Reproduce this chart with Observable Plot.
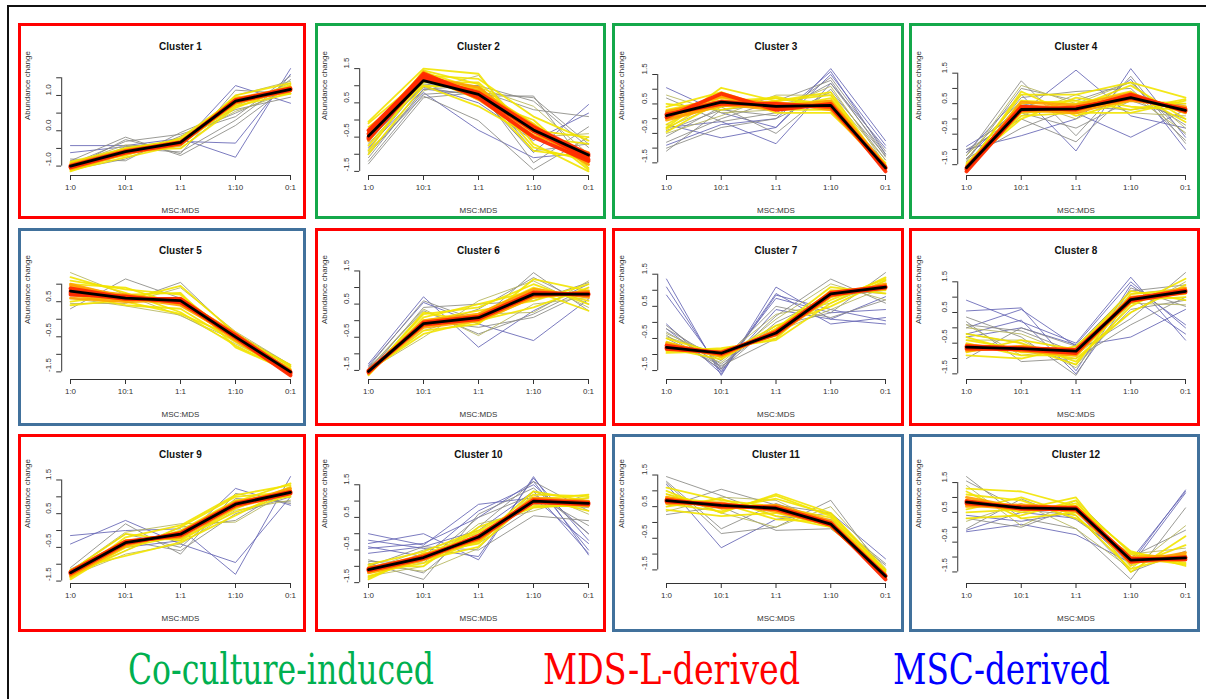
<!DOCTYPE html>
<html>
<head>
<meta charset="utf-8">
<script src="https://cdn.jsdelivr.net/npm/d3@7"></script>
<script src="https://cdn.jsdelivr.net/npm/@observablehq/plot@0.6"></script>
<style>
  html, body { margin: 0; padding: 0; background: #fff; }
  #root { position: relative; width: 1206px; height: 699px; background: #fff; overflow: hidden; }
  .outer { position: absolute; left: 7px; top: 5px; width: 1300px; height: 800px; border-left: 2px solid #111; border-top: 2px solid #111; }
  .panelsvg { position: absolute; }
  .pborder { position: absolute; box-sizing: border-box; border: 3px solid; pointer-events: none; }
  .legend { position: absolute; top: 644px; font-family: "DejaVu Serif Condensed", "DejaVu Serif", serif; font-size: 42px; line-height: 52px; white-space: nowrap; transform-origin: 0 0; }
</style>
</head>
<body>
<div id="root"><div class="outer"></div></div>
<script>
// ---------- data ----------
const conditions = ["1:0", "10:1", "1:1", "1:10", "0:1"];
const clusterNames = ["Cluster 1","Cluster 2","Cluster 3","Cluster 4","Cluster 5","Cluster 6",
                      "Cluster 7","Cluster 8","Cluster 9","Cluster 10","Cluster 11","Cluster 12"];
const clusterGroups = ["MDS-L","Co-culture","Co-culture","Co-culture","MSC","MDS-L",
                       "MDS-L","MDS-L","MDS-L","MDS-L","MSC","MSC"];
const groupLabels = ["Co-culture-induced", "MDS-L-derived", "MSC-derived"];
const groupKeys = ["Co-culture", "MDS-L", "MSC"];
const axisTitleY = "Abundance change";
const axisTitleX = "MSC:MDS";

// membership classes: 0 blue (lowest), 1 gray, 2 olive, 3 yellow, 4 orange, 5 red (highest)
const clusterMeans = [
  [-1.0, -0.59, -0.33, 0.84, 1.17],
  [-0.47, 1.15, 0.75, -0.29, -1.02],
  [0.1, 0.56, 0.42, 0.45, -1.67],
  [-1.6, 0.31, 0.33, 0.7, 0.28],
  [0.8, 0.6, 0.53, -0.5, -1.5],
  [-1.53, -0.09, 0.09, 0.8, 0.8],
  [-0.78, -0.96, -0.33, 0.89, 1.1],
  [-0.63, -0.68, -0.76, 0.92, 1.19],
  [-1.25, -0.36, -0.11, 0.78, 1.13],
  [-1.1, -0.73, -0.1, 1.0, 0.93],
  [0.69, 0.54, 0.45, -0.05, -1.7],
  [0.84, 0.65, 0.62, -1.1, -1.03]
];

const cluster1Profiles = [
  [0,-0.42,-0.42,-0.22,-0.75,1.76],[0,-0.62,-0.45,-0.3,-0.35,1.6],[0,-0.9,-0.55,-0.4,1.28,0.78],
  [1,-0.85,-0.18,-0.7,0.15,1.3],[1,-0.95,-0.3,-0.1,0.4,1.55],[1,-0.8,-0.85,-0.05,0.6,0.95],
  [1,-1.05,-0.25,-0.65,1.15,1.05],[1,-0.9,-0.5,-0.6,0.3,1.45],[1,-1.1,-0.8,-0.15,0.5,1.2],
  [2,-0.95,-0.4,-0.5,0.7,1.35],[2,-0.85,-0.7,-0.25,0.55,1.1],[2,-1.1,-0.45,-0.45,1.0,1.4],
  [3,-1.12,-0.75,-0.4,0.75,1.3],[3,-0.88,-0.5,-0.3,0.95,1.05],[3,-1.05,-0.55,-0.5,0.65,1.25],
  [3,-0.95,-0.7,-0.2,0.9,1.15],[3,-1.15,-0.65,-0.4,1.0,1.35],[3,-0.9,-0.6,-0.35,0.7,1.05],
  [3,-1.0,-0.5,-0.25,0.8,1.25],
  [4,-1.05,-0.62,-0.38,0.88,1.2],[4,-0.98,-0.58,-0.3,0.8,1.12],[4,-1.08,-0.65,-0.4,0.9,1.22],
  [4,-0.95,-0.55,-0.32,0.78,1.15],
  [5,-1.02,-0.6,-0.35,0.85,1.18],[5,-1.04,-0.62,-0.36,0.87,1.2],[5,-0.99,-0.58,-0.33,0.83,1.15]
];
const cluster2Profiles = [
  [0,-1.0,0.8,-0.3,-1.1,-0.95],[0,-0.8,0.9,0.75,-0.95,0.45],[0,-0.6,1.0,0.5,-0.6,0.2],
  [1,-1.28,0.65,0.8,0.65,-0.7],[1,-1.1,0.9,1.0,0.55,-0.8],[1,-0.9,0.7,-0.02,-1.45,-0.5],
  [1,-0.7,1.05,0.9,-1.25,-0.2],[1,-1.2,0.75,0.85,0.3,0.1],[1,-0.5,0.95,0.7,0.7,-1.4],
  [1,-0.85,1.1,1.0,-0.9,-0.7],
  [2,-0.95,0.85,1.3,-0.5,-0.4],[2,-0.65,1.2,0.95,0.4,-1.0],
  [3,-0.05,1.5,1.35,-0.7,-1.5],[3,-0.3,1.4,0.9,-0.1,-1.3],[3,-0.9,1.3,1.2,0.1,-0.6],
  [3,-0.2,1.0,0.4,-0.5,-0.7],[3,-0.6,1.45,1.05,-0.8,-1.2],[3,-0.1,1.25,0.6,0.0,-1.4],
  [3,-0.75,1.1,1.1,-0.3,-0.5],[3,-0.4,1.35,0.8,-0.9,-1.1],[3,-1.0,1.0,0.95,-0.2,-1.45],
  [4,-0.5,1.3,0.7,-0.35,-1.1],[4,-0.35,1.2,0.85,-0.15,-1.2],[4,-0.6,1.4,0.6,-0.45,-0.95],
  [4,-0.45,1.25,0.95,-0.3,-1.3],
  [5,-0.4,1.35,0.72,-0.28,-1.15],[5,-0.5,1.25,0.78,-0.32,-1.05],[5,-0.3,1.3,0.65,-0.5,-1.2],
  [5,-0.55,1.2,0.8,-0.2,-1.0]
];
const cluster3Profiles = [
  [0,1.05,0.2,-0.3,1.7,-0.75],[0,-0.2,-0.65,-0.3,1.5,-0.9],[0,-0.3,-0.1,-0.85,1.2,-1.0],
  [0,-0.9,-0.2,0.0,1.6,-1.2],
  [1,-1.1,0.3,0.1,1.4,-1.1],[1,-0.8,0.0,0.6,1.3,-1.3],[1,-0.6,0.4,-0.5,1.0,-1.4],
  [1,0.7,-0.1,0.2,1.2,-1.2],[1,-0.4,0.3,0.5,0.6,-1.5],[1,-1.0,-0.3,0.0,0.9,-1.25],
  [2,-0.5,0.1,0.8,0.8,-1.4],[2,0.8,0.2,0.3,1.1,-1.55],[2,-0.3,0.5,0.7,0.3,-1.6],
  [3,-0.3,1.05,0.6,0.9,-1.7],[3,0.4,0.9,0.3,0.3,-1.55],[3,-0.45,0.6,0.7,0.5,-1.65],
  [3,0.5,0.3,0.6,0.8,-1.75],[3,-0.2,0.85,0.2,0.2,-1.6],[3,0.3,0.7,0.5,0.6,-1.7],
  [3,0.0,0.4,0.75,0.35,-1.5],[3,-0.35,0.75,0.35,0.7,-1.65],
  [4,0.2,0.75,0.45,0.4,-1.7],[4,0.0,0.5,0.3,0.55,-1.65],[4,0.25,0.6,0.55,0.3,-1.72],
  [4,-0.05,0.45,0.4,0.6,-1.6],
  [5,0.12,0.58,0.42,0.45,-1.68],[5,0.05,0.85,0.3,0.5,-1.79],[5,0.15,0.5,0.5,0.4,-1.65]
];
const cluster4Profiles = [
  [0,-0.9,0.2,1.6,0.1,-0.3],[0,-1.1,0.8,-1.05,1.65,-0.6],[0,-1.3,0.5,0.2,-0.6,0.3],
  [0,-1.0,-0.55,0.0,1.3,-1.0],
  [1,-1.2,1.25,-0.55,1.4,-0.8],[1,-1.4,1.0,0.6,1.2,-0.5],[1,-1.0,0.0,-0.75,0.9,-0.2],
  [1,-1.3,-0.3,0.4,0.3,0.5],[1,-1.5,0.7,0.9,1.0,-0.7],[1,-1.1,0.2,-0.3,0.6,0.0],
  [2,-1.35,1.1,0.5,1.2,-0.3],[2,-1.5,0.1,0.8,0.2,0.1],[2,-1.2,0.6,0.0,0.8,-0.45],
  [3,-1.6,0.8,0.8,1.2,0.7],[3,-1.55,0.1,0.2,0.2,0.6],[3,-1.7,0.6,0.5,0.9,-0.1],
  [3,-1.5,0.0,0.7,0.4,0.3],[3,-1.65,0.9,0.1,0.6,0.5],[3,-1.45,0.3,0.4,1.1,0.0],
  [3,-1.6,0.5,0.6,0.3,0.65],[3,-1.7,0.2,0.3,0.8,0.2],
  [4,-1.62,0.4,0.4,0.75,0.3],[4,-1.55,0.25,0.3,0.6,0.4],[4,-1.68,0.55,0.45,0.85,0.2],
  [4,-1.58,0.3,0.2,0.7,0.35],
  [5,-1.65,0.32,0.34,0.75,0.28],[5,-1.6,0.4,0.3,0.8,0.25],[5,-1.72,0.3,0.38,0.68,0.32]
];
const cluster5Profiles = [
  [1,0.3,1.15,0.6,-0.4,-1.3],[1,1.0,0.5,1.05,-0.45,-1.35],
  [2,1.33,0.7,0.1,-0.6,-1.4],[2,0.45,0.45,0.9,-0.35,-1.3],[2,0.6,0.38,0.12,-0.7,-1.45],
  [3,1.2,0.75,0.2,-0.75,-1.5],[3,0.4,0.55,0.95,-0.4,-1.35],[3,1.1,0.85,0.7,-0.55,-1.4],
  [3,0.7,0.4,0.3,-0.65,-1.55],[3,1.0,0.9,0.4,-0.45,-1.45],[3,0.5,0.7,0.75,-0.8,-1.5],
  [3,0.9,0.5,0.15,-0.5,-1.3],
  [4,0.95,0.65,0.45,-0.55,-1.5],[4,0.7,0.55,0.6,-0.45,-1.45],[4,0.85,0.7,0.5,-0.6,-1.55],
  [4,0.6,0.5,0.55,-0.4,-1.5],[4,1.0,0.62,0.4,-0.5,-1.58],
  [5,0.8,0.6,0.53,-0.5,-1.52],[5,0.75,0.58,0.58,-0.48,-1.55],[5,0.88,0.62,0.5,-0.52,-1.6],
  [5,0.7,0.65,0.48,-0.45,-1.5]
];
const cluster6Profiles = [
  [0,-1.35,0.55,-0.1,-0.6,0.65],[0,-1.3,0.72,-0.8,0.3,1.1],
  [1,-1.4,0.6,0.0,1.45,0.3],[1,-1.45,0.3,-0.4,0.2,1.0],[1,-1.5,-0.2,0.35,1.3,0.5],
  [1,-1.4,0.0,-0.2,0.1,0.9],[1,-1.55,0.4,0.5,0.6,1.15],
  [2,-1.5,-0.5,0.6,1.2,0.4],[2,-1.45,0.35,-0.45,0.5,0.7],[2,-1.55,-0.3,0.2,0.25,1.2],
  [3,-1.6,0.2,0.4,1.1,0.5],[3,-1.5,-0.4,0.0,0.4,1.0],[3,-1.65,0.1,0.5,0.9,0.3],
  [3,-1.55,-0.3,-0.1,1.25,0.9],[3,-1.6,0.0,0.3,0.6,1.1],[3,-1.5,-0.15,0.2,1.0,0.6],
  [3,-1.62,0.25,-0.05,0.7,0.8],
  [4,-1.55,-0.05,0.15,0.85,0.75],[4,-1.5,-0.15,0.05,0.75,0.85],[4,-1.6,0.0,0.2,0.95,0.7],
  [4,-1.52,-0.2,0.0,0.7,0.9],
  [5,-1.53,-0.09,0.09,0.8,0.8],[5,-1.56,-0.05,0.12,0.85,0.78],[5,-1.5,-0.12,0.05,0.78,0.82]
];
const cluster7Profiles = [
  [0,1.35,-1.65,1.1,0.1,-0.05],[0,1.1,-1.55,0.9,-0.05,0.15],[0,0.85,-1.45,0.75,0.3,0.4],
  [0,-0.05,-1.6,0.85,0.4,0.05],[0,-0.2,-1.5,0.4,0.1,0.8],
  [1,-0.1,-1.4,0.2,1.35,0.6],[1,-0.3,-1.3,-0.1,0.3,1.55],[1,-0.4,-1.45,0.0,0.8,1.0],
  [1,-0.2,-1.2,0.5,0.15,0.7],[1,-0.5,-1.35,-0.5,1.0,0.9],
  [2,-0.35,-1.1,0.25,0.6,1.3],[2,-0.6,-1.25,0.1,1.2,0.7],[2,-0.45,-1.0,-0.3,0.4,1.1],
  [3,-0.9,-0.8,-0.55,0.6,1.4],[3,-0.6,-1.1,-0.2,1.1,0.9],[3,-0.95,-0.9,-0.4,0.8,1.2],
  [3,-0.7,-1.05,-0.1,0.5,1.3],[3,-0.85,-0.85,-0.5,1.0,1.0],[3,-0.5,-1.0,-0.3,0.7,1.35],
  [3,-0.8,-1.15,-0.2,0.95,1.15],
  [4,-0.75,-0.95,-0.35,0.85,1.15],[4,-0.65,-1.0,-0.25,0.9,1.05],[4,-0.85,-0.9,-0.4,0.8,1.2],
  [4,-0.7,-1.05,-0.3,0.95,1.1],
  [5,-0.78,-0.96,-0.33,0.89,1.1],[5,-0.72,-0.98,-0.3,0.92,1.12],[5,-0.82,-0.94,-0.36,0.86,1.08]
];
const cluster8Profiles = [
  [0,0.9,0.2,-0.5,1.65,-0.4],[0,0.55,0.65,-1.4,1.4,0.1],[0,-0.2,0.25,-1.5,1.0,-0.2],
  [0,0.0,0.6,-0.6,-0.3,0.6],[0,-0.3,0.0,-0.55,1.5,0.0],
  [1,0.35,-0.3,-1.55,1.3,0.7],[1,0.1,-0.1,-0.8,0.3,1.8],[1,-0.2,-0.5,-1.2,0.6,0.9],
  [1,-1.0,0.0,-0.6,1.2,1.4],[1,0.2,-1.1,-1.0,0.1,1.0],
  [2,0.0,-0.2,-0.9,0.5,1.5],[2,-0.4,-0.4,-1.3,0.8,0.75],[2,0.1,-0.9,-0.65,1.1,1.3],
  [3,-0.2,-0.5,-1.1,0.7,1.6],[3,-0.9,-1.0,-0.6,1.0,1.1],[3,-0.4,-0.7,-1.0,0.5,1.4],
  [3,-0.8,-0.4,-0.7,1.2,0.9],[3,-0.5,-0.9,-0.9,0.8,1.3],[3,-0.7,-0.6,-1.2,1.1,1.25],
  [3,-0.3,-0.8,-0.8,0.9,1.0],
  [4,-0.6,-0.7,-0.85,0.95,1.2],[4,-0.7,-0.65,-0.7,0.85,1.25],[4,-0.55,-0.75,-0.9,1.0,1.15],
  [4,-0.75,-0.6,-0.8,0.9,1.3],
  [5,-0.63,-0.68,-0.76,0.92,1.19],[5,-0.68,-0.7,-0.82,0.95,1.22],[5,-0.6,-0.66,-0.72,0.88,1.16]
];
const cluster9Profiles = [
  [0,-0.15,0.0,0.05,-1.3,1.6],[0,-0.4,0.3,-0.4,-0.95,1.0],[0,-1.2,-0.5,-0.3,1.25,0.75],
  [1,-1.1,0.2,-0.7,1.1,0.8],[1,-1.2,-0.1,-0.5,0.95,0.85],[1,-1.3,-0.6,0.1,0.3,1.3],
  [1,-1.15,-0.3,-0.6,0.5,1.0],
  [2,-1.2,-0.05,0.2,0.25,1.2],[2,-1.35,-0.7,-0.4,0.6,0.9],
  [3,-1.4,-0.2,0.15,1.05,1.35],[3,-1.15,-0.75,-0.35,0.45,1.25],[3,-1.45,-0.45,0.0,0.9,1.0],
  [3,-1.2,-0.1,-0.3,0.65,1.3],[3,-1.35,-0.6,0.1,1.0,1.15],[3,-1.25,-0.3,-0.25,0.55,1.05],
  [3,-1.4,-0.5,-0.15,0.85,1.4],
  [4,-1.3,-0.4,-0.1,0.8,1.2],[4,-1.2,-0.3,-0.2,0.7,1.1],[4,-1.35,-0.45,-0.05,0.85,1.15],
  [4,-1.22,-0.35,-0.15,0.75,1.25],
  [5,-1.25,-0.36,-0.11,0.78,1.13],[5,-1.28,-0.38,-0.08,0.8,1.15],[5,-1.23,-0.33,-0.14,0.75,1.1]
];
const cluster10Profiles = [
  [0,0.0,-0.35,0.9,1.1,-0.3],[0,-0.3,0.0,-0.8,1.75,-0.65],[0,-0.45,-0.3,0.5,1.6,-0.5],
  [0,-0.2,-0.45,-0.7,1.7,-0.2],[0,-0.6,-0.4,0.1,1.3,-0.6],[0,-0.4,-0.7,0.7,1.5,0.0],
  [1,-0.9,-1.4,0.6,1.4,0.0],[1,-1.0,-0.4,-0.5,0.55,0.4],[1,-0.8,-1.2,0.2,1.6,0.7],
  [1,-1.2,-0.6,-0.3,0.8,1.1],[1,-0.85,-0.9,0.5,1.2,0.25],
  [2,-1.3,-1.0,0.3,0.7,1.2],[2,-0.95,-1.15,-0.45,1.3,0.6],[2,-1.1,-0.5,0.0,0.9,0.8],
  [3,-1.4,-0.6,-0.3,1.2,1.15],[3,-1.0,-1.0,0.2,0.8,0.9],[3,-1.3,-0.8,-0.4,1.1,0.7],
  [3,-0.95,-0.55,0.1,0.95,1.1],[3,-1.2,-0.9,-0.2,1.3,1.0],[3,-1.35,-0.65,0.05,0.85,0.85],
  [3,-1.05,-0.75,-0.25,1.05,1.2],
  [4,-1.15,-0.75,-0.12,1.05,0.95],[4,-1.05,-0.7,-0.05,0.95,0.9],[4,-1.2,-0.8,-0.15,1.1,1.0],
  [4,-1.1,-0.65,-0.2,1.0,0.85],
  [5,-1.1,-0.73,-0.1,1.0,0.93],[5,-1.13,-0.76,-0.07,1.03,0.95],[5,-1.08,-0.7,-0.13,0.97,0.9]
];
const cluster11Profiles = [
  [0,1.2,-0.8,0.1,0.3,-1.15],
  [1,1.45,0.85,0.2,0.1,-1.3],[1,1.25,-0.35,-0.15,0.7,-1.6],[1,0.25,0.5,-0.25,-0.2,-1.5],
  [1,1.3,-0.2,0.6,0.0,-1.35],[1,0.5,1.05,0.55,0.3,-1.55],
  [2,0.9,0.3,-0.15,0.5,-1.45],[2,0.35,0.8,0.7,-0.1,-1.6],
  [3,1.0,0.3,0.9,0.3,-1.5],[3,0.5,0.75,0.2,-0.15,-1.65],[3,0.9,0.45,0.75,0.25,-1.55],
  [3,0.4,0.2,0.3,-0.1,-1.7],[3,1.1,0.7,0.5,0.15,-1.6],[3,0.6,0.35,0.85,0.2,-1.75],
  [3,0.8,0.6,0.1,0.0,-1.5],
  [4,0.75,0.5,0.5,0.0,-1.68],[4,0.6,0.58,0.4,-0.1,-1.72],[4,0.8,0.45,0.55,0.05,-1.65],
  [4,0.65,0.62,0.35,-0.08,-1.75],
  [5,0.69,0.54,0.45,-0.05,-1.7],[5,0.72,0.5,0.48,-0.02,-1.8],[5,0.66,0.57,0.42,-0.08,-1.68]
];
const cluster12Profiles = [
  [0,-0.15,0.1,-0.25,-1.2,1.25],[0,-0.1,0.5,0.3,-1.1,1.2],[0,0.4,0.2,0.5,-1.3,1.15],
  [1,1.7,0.3,-0.05,-1.75,0.65],[1,-0.05,0.95,0.25,-1.0,-0.1],[1,1.55,0.6,0.4,-1.5,-0.8],
  [1,0.3,0.0,0.7,-1.2,-1.1],
  [2,1.4,0.05,0.9,-0.9,-0.7],[2,0.2,0.8,-0.05,-1.4,0.05],
  [3,1.3,1.2,0.7,-0.8,-1.3],[3,0.3,0.4,0.9,-1.5,-0.3],[3,1.1,0.9,0.3,-0.9,-1.2],
  [3,0.5,0.6,1.0,-1.3,-0.6],[3,1.2,0.3,0.5,-1.0,-1.25],[3,0.6,1.0,0.4,-1.4,-0.9],
  [3,0.9,0.5,0.8,-0.85,-1.1],
  [4,0.9,0.7,0.6,-1.05,-1.0],[4,0.75,0.6,0.7,-1.15,-1.1],[4,1.0,0.65,0.55,-1.0,-0.95],
  [4,0.7,0.75,0.65,-1.2,-0.85],
  [5,0.84,0.65,0.62,-1.1,-1.03],[5,0.88,0.62,0.6,-1.15,-1.0],[5,0.8,0.68,0.65,-1.05,-1.08]
];
const allProfiles = [cluster1Profiles, cluster2Profiles, cluster3Profiles, cluster4Profiles,
  cluster5Profiles, cluster6Profiles, cluster7Profiles, cluster8Profiles,
  cluster9Profiles, cluster10Profiles, cluster11Profiles, cluster12Profiles];

// ---------- styles / layout ----------
const classColors = ["#6464b4", "#8a8a84", "#b4b45a", "#f2e400", "#ffa000", "#ff2a00"];
const classOpacity = [0.85, 0.85, 0.85, 0.9, 0.9, 0.95];
const classWidth = [1, 1, 1, 1.8, 2.8, 3.8];
const groupColors = {"Co-culture": "#14a84a", "MDS-L": "#ff0000", "MSC": "#41719c"};
const legendColors = {"Co-culture": "#00b050", "MDS-L": "#ff0000", "MSC": "#0000ff"};

const colLeft = [18, 315, 612, 909];
const colWidth = [288, 291, 292, 291];
const colX10 = [52, 53, 54, 57];     // offset of first condition within panel
const colX01 = [272, 273, 273, 276]; // offset of last condition within panel
const rowTop = [23, 228, 434];       // panel borders
const rowHeight = [196, 198, 198];
const svgTop = [23, 227, 431];       // plot content
const frameTop = 41, frameBottom = 152;

const root = document.getElementById("root");

allProfiles.forEach((profiles, k) => {
  const col = k % 4, row = Math.floor(k / 4);
  const W = colWidth[col], H = rowHeight[row];
  const mean = clusterMeans[k];
  const vals = profiles.flatMap(p => p.slice(1)).concat(mean);
  const mn = d3.min(vals), mx = d3.max(vals);
  const pad = (mx - mn) * 0.04;
  const lo = mn - pad, hi = mx + pad;
  const ticks = d3.range(Math.ceil(lo * 2), Math.floor(hi * 2) + 1).map(t => t / 2);
  const labeled = ticks.filter((t, i) => i % 2 === 0);
  const unit = (colX01[col] - colX10[col]) / 4;
  const mLeft = colX10[col] - 0.16 * unit;
  const mRight = W - (colX01[col] + 0.16 * unit);

  const lineMarks = [];
  for (let c = 0; c < classColors.length; c++) {
    const rows = [];
    profiles.forEach((p, j) => {
      if (p[0] !== c) return;
      p.slice(1).forEach((v, i) => rows.push({id: j, i, v}));
    });
    if (rows.length) lineMarks.push(Plot.line(rows, {x: "i", y: "v", z: "id",
      stroke: classColors[c], strokeOpacity: classOpacity[c], strokeWidth: classWidth[c]}));
  }

  const svg = Plot.plot({
    width: W, height: H,
    marginLeft: mLeft, marginRight: mRight, marginTop: frameTop, marginBottom: H - frameBottom,
    x: {domain: [-0.16, 4.16], axis: null},
    y: {domain: [lo, hi], axis: null},
    style: {fontFamily: "Liberation Sans, Arial, sans-serif", fontSize: "8px", background: "transparent", color: "#222", overflow: "visible"},
    marks: [
      ...lineMarks,
      Plot.line(mean.map((v, i) => ({i, v})), {x: "i", y: "v", stroke: "#000", strokeWidth: 2.8}),
      // y axis
      Plot.ruleX([-0.16], {y1: ticks[0], y2: ticks[ticks.length - 1], stroke: "#333", strokeWidth: 1}),
      Plot.axisY({ticks, tickSize: 5, tickFormat: () => "", label: null, stroke: "#333"}),
      Plot.text(labeled, {y: d => d, text: d => d.toFixed(1), frameAnchor: "left", dx: -13, rotate: -90, fill: "#333", fontSize: 8}),
      Plot.text([axisTitleY], {frameAnchor: "left", dx: -(mLeft - 9), rotate: -90, fill: "#333", fontSize: 8}),
      // x axis
      Plot.ruleY([lo], {x1: 0, x2: 4, stroke: "#333", strokeWidth: 1}),
      Plot.axisX({ticks: [0, 1, 2, 3, 4], tickSize: 5, tickFormat: () => "", label: null, stroke: "#333"}),
      Plot.text([0, 1, 2, 3, 4], {x: d => d, text: d => conditions[d], frameAnchor: "bottom", dy: 14, fill: "#333", fontSize: 8}),
      Plot.text([axisTitleX], {frameAnchor: "bottom", dy: 37, fill: "#333", fontSize: 8}),
      // title
      Plot.text([clusterNames[k]], {frameAnchor: "top", dy: -22, fill: "#111", fontSize: 10, fontWeight: "bold"})
    ]
  });
  svg.classList.add("panelsvg");
  svg.style.left = colLeft[col] + "px";
  svg.style.top = svgTop[row] + "px";
  root.appendChild(svg);

  const b = document.createElement("div");
  b.className = "pborder";
  b.style.left = colLeft[col] + "px";
  b.style.top = rowTop[row] + "px";
  b.style.width = W + "px";
  b.style.height = H + "px";
  b.style.borderColor = groupColors[clusterGroups[k]];
  root.appendChild(b);
});

// legend
const legendX = [128, 543, 893];
const legendW = [306, 257, 217];
groupLabels.forEach((lab, i) => {
  const s = document.createElement("div");
  s.className = "legend";
  s.textContent = lab;
  s.style.left = legendX[i] + "px";
  s.style.color = legendColors[groupKeys[i]];
  root.appendChild(s);
  const w = s.getBoundingClientRect().width;
  s.style.transform = `scaleX(${legendW[i] / w})`;
});
</script>
</body>
</html>
